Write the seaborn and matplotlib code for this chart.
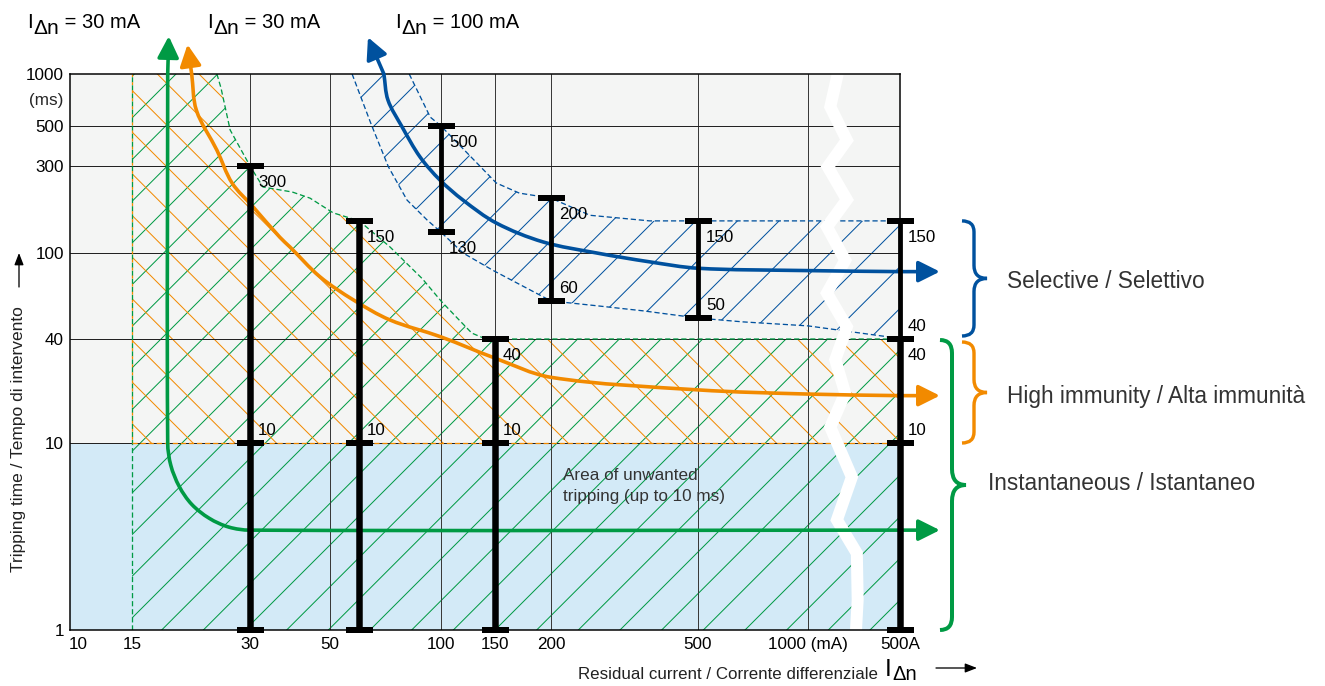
import numpy as np
import matplotlib
matplotlib.use("Agg")
import matplotlib.pyplot as plt
import seaborn as sns
from matplotlib.path import Path
from matplotlib.patches import PathPatch
from matplotlib.transforms import IdentityTransform

# ---------------------------------------------------------------- data
x_tick_values = [10, 15, 30, 50, 100, 150, 200, 500, 1000, 500000]       # mA (500000 mA = 500 A)
x_tick_labels = ['10', '15', '30', '50', '100', '150', '200', '500', '1000 (mA)', '500A']
y_tick_values = [1, 10, 40, 100, 300, 500, 1000]                          # ms
y_tick_labels = ['1', '10', '40', '100', '300', '500', '1000']
x_grid_values = [30, 50, 100, 150, 200, 500, 1000]
y_grid_values = [10, 40, 100, 300, 500]

instant_limit_ms = 10          # area of unwanted tripping (up to 10 ms)
band_left_mA = 15              # left edge of the 30 mA bands
band_right_mA = 500000

# upper limit of the 30 mA (general / high immunity) tripping band
gen_limit_x = [24.7, 25.3, 26.7, 30, 32.6, 39.3, 44, 51, 60, 72.7, 81, 89, 100, 113, 126, 140, 500000]
gen_limit_y = [1000, 830, 475, 300, 230, 216, 200, 166, 150, 108, 89, 76, 60, 50, 42.6, 40, 40]

# selective (100 mA) tripping band
sel_upper_x = [82, 93.5, 100, 151, 170, 200, 255, 370, 500, 500000]
sel_upper_y = [1000, 563, 500, 242, 213, 200, 161, 150, 150, 150]
sel_lower_x = [57.4, 64.7, 72, 80.9, 91.6, 100, 118, 148, 200, 266, 355, 500, 664, 1000, 208000, 500000]
sel_lower_y = [1000, 510, 297, 195, 152, 130, 100, 83, 60, 57, 54, 50, 48, 46, 41, 40]

# characteristic curves
green_x = [18.5, 18.5, 18.84, 19.8, 21.3, 23.6, 26.5, 30, 500000]
green_y = [1000, 10, 7.6, 5.85, 4.7, 3.96, 3.55, 3.42, 3.42]
orange_x = [21.3, 21.9, 24.7, 27.0, 30.6, 36.3, 38.7, 46.9, 58, 72.7, 100, 150, 200, 500, 1000, 500000]
orange_y = [1000, 616, 367, 242, 179, 122, 108, 77.6, 60.5, 49, 40.9, 31, 24, 20.3, 19.2, 18.8]
blue_x = [70, 71.8, 78.4, 87.7, 99.4, 118, 151, 192, 266, 370, 500, 950, 500000]
blue_y = [1000, 707, 495, 337, 251, 195, 146, 115, 100, 91, 85, 83, 82]

# limit bars
gen_bar_x = [30, 60, 150, 500000]
gen_bar_max = [300, 150, 40, 40]
sel_bar_x = [100, 200, 500, 500000]
sel_bar_min = [130, 60, 50, 40]
sel_bar_max = [500, 200, 150, 150]
sel_min_label_side = ['below', 'above', 'above', 'above']

top_label_rest = [' = 30 mA', ' = 30 mA', ' = 100 mA']
right_labels = ['Selective / Selettivo', 'High immunity / Alta immunità', 'Instantaneous / Istantaneo']

# ---------------------------------------------------------------- style
DPI = 125
W, H = 1325, 686
S = 100.0 / DPI                      # font sizes given as "pt at 100 dpi"
def px(v):                           # pixels -> points
    return v * 72.0 / DPI

GREEN = '#009a44'
ORANGE = '#f28a00'
BLUE = '#00519e'
LIGHTBLUE = '#d3eaf7'
PAPER = '#f4f5f4'
TXT = '#333333'

sns.set_theme(style='white')
plt.rcParams['font.family'] = ['Liberation Sans', 'DejaVu Sans']
plt.rcParams['hatch.linewidth'] = px(1.0)

# piecewise-logarithmic scale through the printed tick positions
X_TICK_PX = [78, 132, 250, 330, 441, 495, 551, 698, 808, 900]
Y_TICK_PX = [0, 187, 291, 377, 464, 504, 556]

def piecewise_log(vals, pos):
    lv = np.log10(np.asarray(vals, float))
    p = np.asarray(pos, float)
    s0 = (p[1] - p[0]) / (lv[1] - lv[0])
    s1 = (p[-1] - p[-2]) / (lv[-1] - lv[-2])

    def fwd(x):
        x = np.asarray(x, float)
        with np.errstate(divide='ignore', invalid='ignore'):
            l = np.log10(np.where(x > 0, x, np.nan))
        out = np.interp(l.ravel(), lv, p).reshape(l.shape)
        out = np.where(l < lv[0], p[0] + (l - lv[0]) * s0, out)
        out = np.where(l > lv[-1], p[-1] + (l - lv[-1]) * s1, out)
        return out

    def inv(q):
        q = np.asarray(q, float)
        l = np.interp(q.ravel(), p, lv).reshape(q.shape)
        l = np.where(q < p[0], lv[0] + (q - p[0]) / s0, l)
        l = np.where(q > p[-1], lv[-1] + (q - p[-1]) / s1, l)
        return 10 ** l
    return fwd, inv

fig = plt.figure(figsize=(W / DPI, H / DPI), dpi=DPI)
fig.patch.set_facecolor('white')
AX_L, AX_R, AX_T, AX_B = 70, 900, 74, 630
ax = fig.add_axes([AX_L / W, (H - AX_B) / H, (AX_R - AX_L) / W, (AX_B - AX_T) / H])

xf, xi = piecewise_log(x_tick_values, X_TICK_PX)
yf, yi = piecewise_log(y_tick_values, Y_TICK_PX)
ax.set_xscale('function', functions=(xf, xi))
ax.set_yscale('function', functions=(yf, yi))
XMIN = float(xi(np.array([float(AX_L)]))[0])
ax.set_xlim(XMIN, band_right_mA)
ax.set_ylim(1, 1000)

ax.set_facecolor(PAPER)
ax.axhspan(1, instant_limit_ms, color=LIGHTBLUE, lw=0, zorder=0)

# ---------------- hatched areas
gx = [band_left_mA, band_left_mA] + gen_limit_x + [band_right_mA]
gy_green = [1, 1000] + gen_limit_y + [1]
ax.fill(gx, gy_green, facecolor='none', edgecolor=GREEN, hatch='/', lw=0, zorder=1)
gy_orange = [instant_limit_ms, 1000] + gen_limit_y + [instant_limit_ms]
ax.fill(gx, gy_orange, facecolor='none', edgecolor=ORANGE, hatch='\\', lw=0, zorder=1)
bx = sel_upper_x + sel_lower_x[::-1]
by = sel_upper_y + sel_lower_y[::-1]
ax.fill(bx, by, facecolor='none', edgecolor=BLUE, hatch='/', lw=0, zorder=1)

# ---------------- grid
for v in x_grid_values:
    ax.axvline(v, color='#3a3a3a', lw=px(1.0), zorder=1.6)
for v in y_grid_values:
    ax.axhline(v, color='#222222', lw=px(1.0), zorder=1.6)

# ---------------- dashed boundaries (seaborn line plots)
DASH = (0, (4, 2.2))
bkw = dict(sort=False, estimator=None, linewidth=px(1.3), linestyle=DASH, ax=ax, zorder=2)
sns.lineplot(x=gen_limit_x, y=gen_limit_y, color=GREEN, **bkw)
sns.lineplot(x=[band_left_mA, band_left_mA], y=[1, 1000], color=GREEN, **bkw)
sns.lineplot(x=[band_left_mA, band_right_mA], y=[instant_limit_ms, instant_limit_ms], color=ORANGE, **bkw)
sns.lineplot(x=sel_upper_x, y=sel_upper_y, color=BLUE, **bkw)
sns.lineplot(x=sel_lower_x, y=sel_lower_y, color=BLUE, **bkw)
ax.plot([band_left_mA, band_left_mA], [instant_limit_ms, 1000], color=ORANGE,
        lw=px(1.3), linestyle=(3.3, (2.2, 4)), zorder=2.05)

# ---------------- white scale break
zig_x = [0.925, 0.916, 0.936, 0.913, 0.936, 0.912, 0.934, 0.912, 0.936, 0.922, 0.934,
         0.916, 0.942, 0.924, 0.948, 0.949, 0.947]
zig_y = [1.0, 0.941, 0.881, 0.833, 0.774, 0.725, 0.665, 0.606, 0.545, 0.486, 0.426,
         0.365, 0.275, 0.198, 0.138, 0.054, 0.0]
ax.plot(zig_x, zig_y, transform=ax.transAxes, color='white', lw=px(12),
        solid_joinstyle='miter', solid_capstyle='butt', zorder=2.4)

ax.set_xlim(XMIN, band_right_mA)
ax.set_ylim(1, 1000)

# ---------------- characteristic curves (smooth curves through the points, via transData)
CURVE_LW = px(3.6)

def smooth_curve(xs, ys, color):
    P = ax.transData.transform(np.column_stack([xs, ys]))
    n = len(P)
    T = np.zeros_like(P)
    for i in range(n):
        d = P[min(i + 1, n - 1)] - P[max(i - 1, 0)]
        T[i] = d / np.hypot(*d)
    verts = [P[0]]
    codes = [Path.MOVETO]
    for i in range(n - 1):
        L = np.hypot(*(P[i + 1] - P[i]))
        verts += [P[i] + T[i] * L / 3, P[i + 1] - T[i + 1] * L / 3, P[i + 1]]
        codes += [Path.CURVE4] * 3
    patch = PathPatch(Path(verts, codes), transform=IdentityTransform(), fill=False,
                      edgecolor=color, lw=CURVE_LW, capstyle='butt', joinstyle='round', zorder=5)
    ax.add_artist(patch)
    patch.set_clip_path(ax.patch)

smooth_curve(green_x, green_y, GREEN)
smooth_curve(orange_x, orange_y, ORANGE)
smooth_curve(blue_x, blue_y, BLUE)

def arrow_props(color):
    return dict(arrowstyle='-|>,head_length=1.0,head_width=0.5', color=color, lw=CURVE_LW,
                shrinkA=0, shrinkB=0, mutation_scale=px(18))

# arrows leaving the top of the chart
for cx, cy, tip, col in [(green_x, green_y, (0.119, 1.068), GREEN),
                         (orange_x, orange_y, (0.1416, 1.053), ORANGE),
                         (blue_x, blue_y, (0.359, 1.066), BLUE)]:
    ax.annotate('', xy=tip, xycoords='axes fraction', xytext=(cx[0], cy[0]), textcoords='data',
                arrowprops=arrow_props(col), zorder=5)
# arrows leaving to the right
for cx, cy, col in [(green_x, green_y, GREEN), (orange_x, orange_y, ORANGE), (blue_x, blue_y, BLUE)]:
    ax.annotate('', xy=(1.048, cy[-1]), xycoords=('axes fraction', 'data'),
                xytext=(cx[-1], cy[-1]), textcoords='data',
                arrowprops=arrow_props(col), zorder=5)

# ---------------- limit bars
ax.vlines(gen_bar_x, 1, gen_bar_max, color='black', lw=px(6.5), zorder=6, clip_on=False)
ax.vlines(sel_bar_x, sel_bar_min, sel_bar_max, color='black', lw=px(4.8), zorder=6, clip_on=False)
cap_x = gen_bar_x * 3 + sel_bar_x * 2
cap_y = [1] * len(gen_bar_x) + [instant_limit_ms] * len(gen_bar_x) + gen_bar_max + sel_bar_min + sel_bar_max
ax.plot(cap_x, cap_y, ls='none', marker='_', ms=px(27), mew=px(6), color='black',
        zorder=7, clip_on=False)

OFF = {'below': -21, 'above': 8}
bar_labels = ([(x, v, 'below') for x, v in zip(gen_bar_x, gen_bar_max)] +
              [(x, instant_limit_ms, 'above') for x in gen_bar_x] +
              [(x, v, 'below') for x, v in zip(sel_bar_x, sel_bar_max)] +
              [(x, v, s) for x, v, s in zip(sel_bar_x, sel_bar_min, sel_min_label_side)])
for x, v, side in bar_labels:
    ax.annotate(str(v), (x, v), xytext=(px(8), px(OFF[side])), textcoords='offset points',
                ha='left', va='baseline', fontsize=12.2 * S, color='black',
                annotation_clip=False, zorder=8)

ax.text(215, 5.9, 'Area of unwanted\ntripping (up to 10 ms)', ha='left', va='center',
        fontsize=12.3 * S, color=TXT, linespacing=1.45, zorder=4)

# ---------------- axes decoration
ax.set_xticks(x_tick_values, x_tick_labels)
ax.set_yticks(y_tick_values, y_tick_labels)
ax.minorticks_off()
ax.tick_params(axis='both', length=0, colors='black')
ax.tick_params(axis='x', pad=px(7), labelsize=12.3 * S)
ax.tick_params(axis='y', pad=px(6), labelsize=12.3 * S)
ax.set_xlabel('')
ax.set_ylabel('')
ax.grid(False)
for sp in ax.spines.values():
    sp.set_color('black')
    sp.set_linewidth(px(1.5))

def fx(v):
    return v / W
def fy(v):
    return 1 - v / H

fig.text(fx(63), fy(100), '(ms)', ha='right', va='center', fontsize=12.3 * S)

def idn_label(x0, y_bottom, rest, size_i, size_sub, size_rest, drop):
    """'I' with a large 'Δn' subscript, followed by the rest of the text."""
    t1 = fig.text(fx(x0), fy(y_bottom), 'I', ha='left', va='bottom', fontsize=size_i * S, color='black')
    t2 = ax.annotate('Δn', xy=(1, 0), xycoords=t1, xytext=(px(0.5), -px(drop)),
                     textcoords='offset points', ha='left', va='bottom',
                     fontsize=size_sub * S, color='black', annotation_clip=False)
    if rest:
        ax.annotate(rest, xy=(1, 0), xycoords=t2, xytext=(0, px(drop)),
                    textcoords='offset points', ha='left', va='bottom',
                    fontsize=size_rest * S, color='black', annotation_clip=False)

for rest, x0 in zip(top_label_rest, [27, 207, 395]):
    idn_label(x0, 32, rest, 15, 15, 14.5, 6)

fig.text(fx(878), fy(679), 'Residual current / Corrente differenziale', ha='right', va='baseline',
         fontsize=12.2 * S, color='#222222')
idn_label(885, 681, '', 17.5, 14.5, 14.5, 3)
fig.text(fx(19), fy(572), 'Tripping time / Tempo di intervento', rotation=90, ha='center',
         va='bottom', fontsize=12.5 * S, color='#222222')
small_arrow = dict(arrowstyle='-|>,head_length=0.9,head_width=0.35', color='black', lw=px(1.3),
                   shrinkA=0, shrinkB=0, mutation_scale=px(11))
ax.annotate('', xy=(fx(977), fy(668)), xycoords='figure fraction',
            xytext=(fx(936), fy(668)), textcoords='figure fraction', arrowprops=small_arrow)
ax.annotate('', xy=(fx(19), fy(253)), xycoords='figure fraction',
            xytext=(fx(19), fy(287)), textcoords='figure fraction', arrowprops=small_arrow)

for lbl, (x0, y0) in zip(right_labels, [(1007, 282), (1007, 397), (988, 484)]):
    fig.text(fx(x0), fy(y0), lbl, ha='left', va='center', fontsize=16.3 * S, color=TXT)

# ---------------- braces (drawn in pixel space, spanning the data ranges)
def ydisp(v):
    return ax.transData.transform([[100.0, v]])[0][1]

def brace(xh, xs, xt, yt, yb, color, lw, r=11, rm=13):
    ym = (yt + yb) / 2
    verts = [(xh, yt), (xs, yt), (xs, yt - r), (xs, ym + rm), (xs, ym), (xt, ym),
             (xs, ym), (xs, ym - rm), (xs, yb + r), (xs, yb), (xh, yb)]
    codes = [Path.MOVETO, Path.CURVE3, Path.CURVE3, Path.LINETO, Path.CURVE3, Path.CURVE3,
             Path.CURVE3, Path.CURVE3, Path.LINETO, Path.CURVE3, Path.CURVE3]
    fig.add_artist(PathPatch(Path(verts, codes), transform=IdentityTransform(), fill=False,
                             edgecolor=color, lw=lw, capstyle='butt'))

brace(962, 974, 987, ydisp(sel_bar_max[-1]), ydisp(sel_bar_min[-1]) + 3, BLUE, px(3.4))
brace(962, 974, 987, ydisp(gen_bar_max[-1]) - 3, ydisp(instant_limit_ms), ORANGE, px(3.4))
brace(940, 952, 966, ydisp(gen_bar_max[-1]) - 1, ydisp(1), GREEN, px(4.0), r=13, rm=16)

fig.savefig('out.png', dpi=DPI, facecolor='white')
